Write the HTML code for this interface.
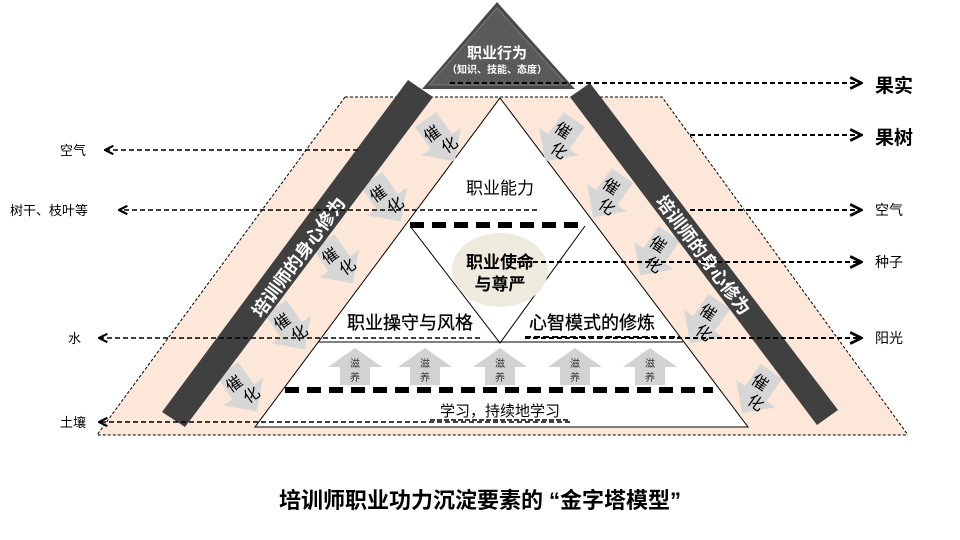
<!DOCTYPE html>
<html><head><meta charset="utf-8"><style>
body{margin:0;background:#fff}
svg{display:block;font-family:"Liberation Sans","Noto Sans CJK SC",sans-serif}
</style></head><body>
<svg width="960" height="540" viewBox="0 0 960 540" xmlns="http://www.w3.org/2000/svg">
<defs>
<marker id="ah" viewBox="0 0 10 10" refX="8" refY="5" markerWidth="7" markerHeight="7" orient="auto-start-reverse"><path d="M1,1 L9,5 L1,9" fill="none" stroke="#000" stroke-width="2"/></marker>
<g id="cat"><polygon points="-13,-25 13,-25 13,2 24,2 0,26 -24,2 -13,2" fill="#d6d6d6"/>
<text x="-3" y="-4" font-size="16" text-anchor="middle">催</text><text x="5" y="15" font-size="16" text-anchor="middle">化</text></g>
<g id="zy"><polygon points="-15,19 -15,1 -27,1 0,-18 27,1 15,1 15,19" fill="#d2d2d2"/>
<text x="0" y="1" font-size="10" text-anchor="middle" fill="#333">滋</text><text x="0" y="15" font-size="10" text-anchor="middle" fill="#333">养</text></g>
</defs>
<polygon points="345,97 662,97 908,435 97,435" fill="#fce7d9"/>
<polyline points="345,97 662,97 908,435" fill="none" stroke="#000" stroke-width="1" stroke-dasharray="3,2"/>
<polyline points="345,97 97,435 908,435" fill="none" stroke="#000" stroke-width="1" stroke-dasharray="3,2"/>
<polygon points="500,98 748,427 255,427" fill="#fff" stroke="#000" stroke-width="1"/>
<line x1="318" y1="342" x2="683" y2="342" stroke="#000" stroke-width="1"/>
<polyline points="410,226 500,343 585,226" fill="none" stroke="#000" stroke-width="1"/>
<ellipse cx="500" cy="270" rx="48" ry="37" fill="#eeebde"/>
<line x1="410" y1="225" x2="585" y2="225" stroke="#000" stroke-width="6" stroke-dasharray="14,8"/>
<line x1="285" y1="390" x2="713" y2="390" stroke="#000" stroke-width="6" stroke-dasharray="14,8"/>
<g transform="translate(440,140) rotate(-35)"><use href="#cat"/></g>
<g transform="translate(386,200) rotate(-35)"><use href="#cat"/></g>
<g transform="translate(338,262) rotate(-35)"><use href="#cat"/></g>
<g transform="translate(290,328) rotate(-35)"><use href="#cat"/></g>
<g transform="translate(242,390) rotate(-35)"><use href="#cat"/></g>
<g transform="translate(560,140) rotate(35)"><use href="#cat"/></g>
<g transform="translate(608,196) rotate(35)"><use href="#cat"/></g>
<g transform="translate(655,254) rotate(35)"><use href="#cat"/></g>
<g transform="translate(705,322) rotate(35)"><use href="#cat"/></g>
<g transform="translate(757,392) rotate(35)"><use href="#cat"/></g>
<polygon points="408,80 433,97 185,427 162,412" fill="#404040"/>
<polygon points="590,83 570,97 817,425 838,410" fill="#404040"/>
<text transform="translate(300,258) rotate(-53.6)" font-size="18" font-weight="bold" fill="#fff" text-anchor="middle" dominant-baseline="middle">培训师的身心修为</text>
<text transform="translate(702,256) rotate(53)" font-size="18" font-weight="bold" fill="#fff" text-anchor="middle" dominant-baseline="middle">培训师的身心修为</text>
<polygon points="497,2 575,89 422,89" fill="#4a4a4a"/>
<polygon points="497,8 567,85 429,85" fill="#5a5a5a" stroke="#777" stroke-width="1"/>
<text x="497" y="58" font-size="15" font-weight="bold" fill="#fff" text-anchor="middle">职业行为</text>
<text x="497" y="73" font-size="10" font-weight="bold" fill="#fff" text-anchor="middle">（知识、技能、态度）</text>
<use href="#zy" x="355" y="366"/><use href="#zy" x="425" y="366"/><use href="#zy" x="500" y="366"/><use href="#zy" x="575" y="366"/><use href="#zy" x="650" y="366"/>
<text x="500" y="194" font-size="17" text-anchor="middle">职业能力</text>
<text x="500" y="268" font-size="17" font-weight="bold" text-anchor="middle">职业使命</text>
<text x="500" y="290" font-size="17" font-weight="bold" text-anchor="middle">与尊严</text>
<text x="410" y="329" font-size="18" text-anchor="middle" stroke="#000" stroke-width="0.3">职业操守与风格</text>
<text x="592" y="329" font-size="18" text-anchor="middle" stroke="#000" stroke-width="0.3">心智模式的修炼</text>
<text x="500" y="416" font-size="15" text-anchor="middle">学习，持续地学习</text>
<line x1="525" y1="337" x2="680" y2="337" stroke="#000" stroke-width="2" stroke-dasharray="6,3"/>
<line x1="430" y1="420" x2="570" y2="420" stroke="#000" stroke-width="1.5" stroke-dasharray="5,2"/>
<g stroke="#000" stroke-width="1.5" stroke-dasharray="5,3" fill="none">
<line x1="358" y1="150" x2="106" y2="150" marker-end="url(#ah)"/>
<line x1="537" y1="210" x2="120" y2="210" marker-end="url(#ah)"/>
<line x1="480" y1="338" x2="100" y2="338" marker-end="url(#ah)"/>
<line x1="570" y1="422" x2="100" y2="422" marker-end="url(#ah)"/>
<line x1="450" y1="83" x2="860" y2="83" stroke-width="2" marker-end="url(#ah)"/>
<line x1="690" y1="135" x2="860" y2="135" stroke-width="2" marker-end="url(#ah)"/>
<line x1="690" y1="210" x2="860" y2="210" stroke-width="2" marker-end="url(#ah)"/>
<line x1="517" y1="262" x2="860" y2="262" stroke-width="2" marker-end="url(#ah)"/>
<line x1="525" y1="338" x2="860" y2="338" stroke-width="2" marker-end="url(#ah)"/>
</g>
<g font-size="13">
<text x="60" y="155">空气</text>
<text x="10" y="215">树干、枝叶等</text>
<text x="68" y="343">水</text>
<text x="60" y="427">土壤</text>
<text x="875" y="215" font-size="14">空气</text>
<text x="875" y="267" font-size="14">种子</text>
<text x="875" y="343" font-size="14">阳光</text>
</g>
<text x="875" y="92" font-size="19" font-weight="bold">果实</text>
<text x="875" y="144" font-size="19" font-weight="bold">果树</text>
<text x="480" y="508" font-size="22" font-weight="bold" text-anchor="middle">培训师职业功力沉淀要素的 “金字塔模型”</text>
</svg>
</body></html>
